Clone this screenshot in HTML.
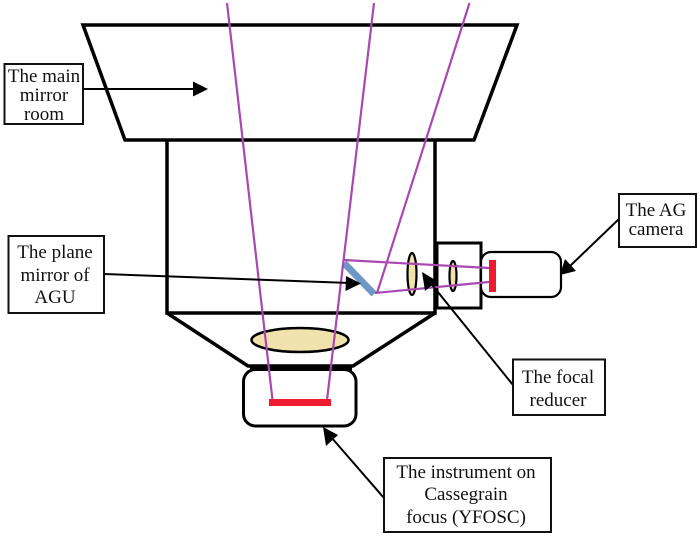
<!DOCTYPE html>
<html>
<head>
<meta charset="utf-8">
<style>
html,body{margin:0;padding:0;background:#fff;width:700px;height:536px;overflow:hidden}
svg{display:block}
text{font-family:"Liberation Serif",serif;font-size:19px;fill:#111;text-anchor:middle}
</style>
</head>
<body>
<svg width="700" height="536" viewBox="0 0 700 536" xmlns="http://www.w3.org/2000/svg">
<rect width="700" height="536" fill="#fff"/>
<!-- main structure -->
<polygon points="83,25 517,25 474,140 125,140" fill="#fff" stroke="#000" stroke-width="3.5"/>
<path d="M167,140V313H435V140" fill="none" stroke="#000" stroke-width="3.5"/>
<path d="M167,313L248,366H353L435,313" fill="none" stroke="#000" stroke-width="3.5"/>
<rect x="250" y="365" width="102" height="6" fill="#000"/>
<ellipse cx="300" cy="340" rx="48.5" ry="12" fill="#f0e2ac" stroke="#000" stroke-width="2.5"/>
<rect x="243.500" y="369.500" width="112.500" height="56.500" rx="12" ry="12" fill="#fff" stroke="#000" stroke-width="3"/>
<!-- side box and camera -->
<rect x="437" y="243" width="44" height="65" fill="#fff" stroke="#000" stroke-width="3"/>
<rect x="481" y="252" width="80" height="45" rx="10" ry="10" fill="#fff" stroke="#000" stroke-width="2.2"/>
<!-- lenses -->
<ellipse cx="412" cy="274" rx="4.500" ry="21" fill="#f0e2ac" stroke="#000" stroke-width="2.2"/>
<ellipse cx="453" cy="276" rx="3.500" ry="15" fill="#f0e2ac" stroke="#000" stroke-width="2.2"/>
<!-- plane mirror -->
<line x1="344" y1="263" x2="374" y2="294" stroke="#6f97c6" stroke-width="7"/>
<!-- rays -->
<g stroke="#a848b0" stroke-width="2.200" fill="none">
<line x1="227" y1="3" x2="272.500" y2="400"/>
<line x1="374" y1="3" x2="327" y2="400"/>
<line x1="469.500" y1="3" x2="377" y2="293"/>
<line x1="344" y1="260" x2="489" y2="268"/>
<line x1="375" y1="293" x2="489" y2="282"/>
</g>
<!-- detectors -->
<rect x="269" y="399" width="62" height="7" fill="#ee1c2e"/>
<rect x="489" y="260" width="7" height="32" fill="#ee1c2e"/>
<!-- connectors -->
<g stroke="#000" stroke-width="2" fill="none">
<line x1="83" y1="89" x2="196" y2="89"/>
<line x1="104" y1="274" x2="350" y2="283"/>
<line x1="619" y1="219" x2="570" y2="266"/>
<line x1="513" y1="385" x2="429" y2="281"/>
<line x1="384" y1="498" x2="331" y2="437"/>
</g>
<g fill="#000">
<polygon points="208,89 193,81.500 193,96.500"/>
<polygon points="361,283.500 346,276 345.500,291"/>
<polygon points="560,275 565,259 576,271"/>
<polygon points="422,272 437,281 425,291"/>
<polygon points="323,427 338,435 326,446"/>
</g>
<!-- labels -->
<g fill="#fff" stroke="#111" stroke-width="2">
<rect x="4.500" y="64" width="78.500" height="60"/>
<rect x="8.500" y="236" width="95.500" height="77"/>
<rect x="619" y="194" width="77" height="53"/>
<rect x="513" y="359.500" width="92" height="55.500"/>
<rect x="384" y="458" width="167" height="74"/>
</g>
<text x="44" y="82">The main</text>
<text x="44" y="101">mirror</text>
<text x="44" y="120">room</text>
<text x="55" y="258">The plane</text>
<text x="55" y="281">mirror of</text>
<text x="55" y="303">AGU</text>
<text x="656" y="216">The AG</text>
<text x="656" y="235">camera</text>
<text x="558" y="383">The focal</text>
<text x="558" y="406">reducer</text>
<text x="466" y="478">The instrument on</text>
<text x="466" y="500">Cassegrain</text>
<text x="466" y="523">focus (YFOSC)</text>
</svg>
</body>
</html>
